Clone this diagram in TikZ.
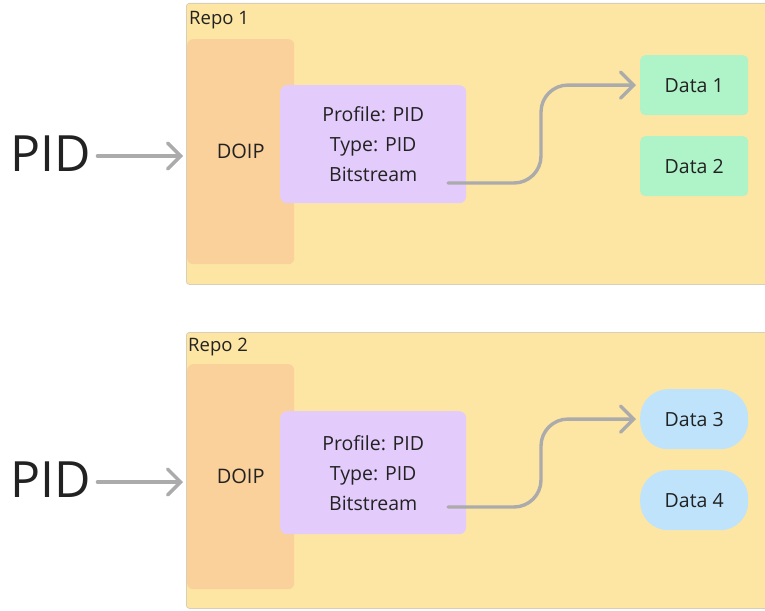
\documentclass[tikz,border=0pt]{standalone}
\usepackage{fontspec}
\setmainfont{Open Sans}
\usetikzlibrary{arrows.meta}
\definecolor{repobg}{HTML}{FDE6A4}
\definecolor{repoline}{HTML}{D9CFB8}
\definecolor{doipbg}{HTML}{FAD09B}
\definecolor{profbg}{HTML}{E3CCFC}
\definecolor{greenbg}{HTML}{AFF3C8}
\definecolor{bluebg}{HTML}{BEE3FA}
\definecolor{arrowgrey}{HTML}{ABABAB}
\definecolor{ink}{HTML}{222222}
\tikzset{
  repobox/.style={fill=repobg, draw=repoline, line width=0.8pt, rounded corners=3pt},
  doipbox/.style={fill=doipbg, rounded corners=6pt, minimum width=107pt, minimum height=225pt, inner sep=0pt, text=ink, font=\fontsize{20}{23}\selectfont},
  profbox/.style={fill=profbg, rounded corners=7pt, minimum width=186pt, inner sep=0pt, text=ink, align=center, font=\fontsize{19.5}{30}\selectfont},
  databox/.style={rounded corners=5pt, minimum width=108pt, minimum height=60pt, inner sep=0pt, text=ink, font=\fontsize{19.5}{22}\selectfont},
  pidtext/.style={text=ink, font=\fontsize{50}{54}\selectfont, inner sep=0pt},
  repolabel/.style={text=ink, font=\fontsize{18.5}{21}\selectfont, inner sep=0pt, anchor=west},
  conn/.style={draw=arrowgrey, line width=3.4pt, line cap=round, -{Straight Barb[length=13pt,width=26pt,line width=3.4pt,line cap=round]}},
}
\begin{document}
\begin{tikzpicture}[x=1pt,y=-1pt]
\useasboundingbox (0,0) rectangle (765,610);
% Repo 1
\node[repobox, minimum width=586pt, minimum height=281pt, anchor=north west, inner sep=0pt] (repo1) at (186,3) {};
\node[repolabel] (repo1lbl) at (189,20) {Repo 1};
\node[doipbox, anchor=north west] (doip1) at (187,39) {DOIP};
\node[profbox, minimum height=118pt, anchor=north west] (prof1) at (280,85) {Profile: PID\\Type: PID\\Bitstream};
\node[databox, fill=greenbg, anchor=north west] (data1) at (640,55) {Data 1};
\node[databox, fill=greenbg, anchor=north west] (data2) at (640,136) {Data 2};
\node[pidtext] (pid1) at (51,154) {PID};
\coordinate (src1) at (448,183);
\coordinate (pidout1) at ([xshift=6pt,yshift=-2pt]pid1.east);
\draw[conn] (pidout1) -- ([xshift=-4pt]doip1.west |- pidout1);
\draw[conn, rounded corners=27pt] (src1) -- (541,183) -- (541,85) -- ([xshift=-4pt]data1.west);
% Repo 2
\node[repobox, minimum width=586pt, minimum height=276pt, anchor=north west, inner sep=0pt] (repo2) at (186,332) {};
\node[repolabel] (repo2lbl) at (188,347) {Repo 2};
\node[doipbox, anchor=north west] (doip2) at (187,364) {DOIP};
\node[profbox, minimum height=123pt, anchor=north west] (prof2) at (280,411) {Profile: PID\\Type: PID\\Bitstream};
\node[databox, fill=bluebg, rounded corners=28pt, anchor=north west] (data3) at (640,389) {Data 3};
\node[databox, fill=bluebg, rounded corners=28pt, anchor=north west] (data4) at (640,470) {Data 4};
\node[pidtext] (pid2) at (51,480) {PID};
\coordinate (src2) at (448,507);
\coordinate (pidout2) at ([xshift=6pt,yshift=-2pt]pid2.east);
\draw[conn] (pidout2) -- ([xshift=-4pt]doip2.west |- pidout2);
\draw[conn, rounded corners=27pt] (src2) -- (541,507) -- (541,419) -- ([xshift=-4pt]data3.west);
\end{tikzpicture}
\end{document}
